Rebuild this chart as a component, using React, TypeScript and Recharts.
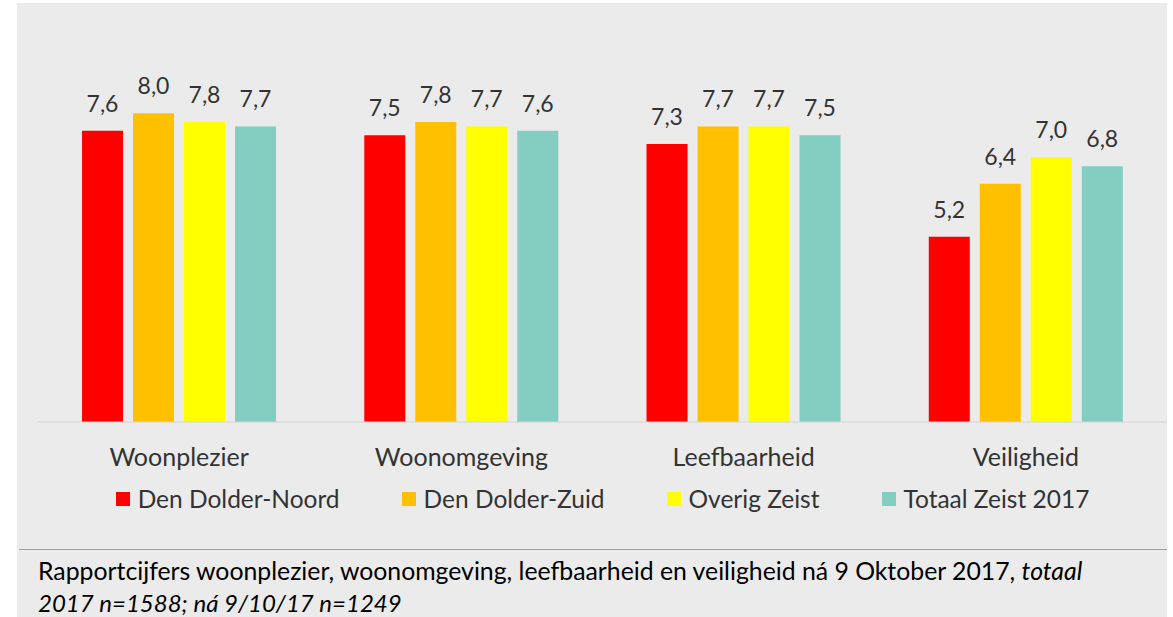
import { Bar, BarChart, LabelList, Legend, XAxis, YAxis } from "recharts";

const categories = ["Woonplezier", "Woonomgeving", "Leefbaarheid", "Veiligheid"];
const denDolderNoord = [7.6, 7.5, 7.3, 5.2];
const denDolderZuid = [8.0, 7.8, 7.7, 6.4];
const overigZeist = [7.8, 7.7, 7.7, 7.0];
const totaalZeist2017 = [7.7, 7.6, 7.5, 6.8];

const series = [
  { key: "noord", name: "Den Dolder-Noord", color: "#ff0000", values: denDolderNoord },
  { key: "zuid", name: "Den Dolder-Zuid", color: "#ffc000", values: denDolderZuid },
  { key: "overig", name: "Overig Zeist", color: "#ffff00", values: overigZeist },
  { key: "totaal", name: "Totaal Zeist 2017", color: "#83cec0", values: totaalZeist2017 },
];

const data = categories.map((cat, i) => {
  const row: Record<string, string | number> = { cat };
  series.forEach((s) => {
    row[s.key] = s.values[i];
  });
  return row;
});

const font = "Lato, 'Noto Sans', sans-serif";
const fmt = (v: any) => Number(v).toFixed(1).replace(".", ",");

function LegendContent() {
  return (
    <div
      style={{
        height: 47,
        display: "flex",
        justifyContent: "center",
        alignItems: "flex-start",
        paddingTop: 9,
        boxSizing: "border-box",
        gap: 62,
        fontFamily: font,
        fontSize: 24.5,
        color: "#333333",
      }}
    >
      {series.map((s) => (
        <div key={s.key} style={{ display: "flex", alignItems: "center", lineHeight: "25px" }}>
          <span
            style={{ width: 14, height: 14, background: s.color, display: "inline-block", marginRight: 8 }}
          />
          <span>{s.name}</span>
        </div>
      ))}
    </div>
  );
}

export default function App() {
  return (
    <div
      style={{
        position: "absolute",
        left: 0,
        top: 0,
        width: 1173,
        height: 617,
        background: "#ffffff",
        fontFamily: font,
        overflow: "hidden",
      }}
    >
      <div
        style={{
          position: "absolute",
          left: 17,
          top: 3,
          width: 1150,
          height: 614,
          background: "#ebebeb",
        }}
      >
        <BarChart
          width={1150}
          height={521}
          data={data}
          margin={{ top: 22, right: 0, left: 21, bottom: 0 }}
          barGap={10}
          barCategoryGap="15.6%"
        >
          <XAxis
            dataKey="cat"
            height={55}
            tickLine={false}
            tickSize={0}
            tickMargin={26}
            axisLine={{ stroke: "#d4d4d4" }}
            tick={{ fontSize: 25, fill: "#333333", fontFamily: font }}
          />
          <YAxis hide type="number" domain={[1, 10]} />
          <Legend
            verticalAlign="bottom"
            height={47}
            wrapperStyle={{ height: 47 }}
            content={() => <LegendContent />}
          />
          {series.map((s) => (
            <Bar key={s.key} dataKey={s.key} name={s.name} fill={s.color} isAnimationActive={false}>
              <LabelList
                dataKey={s.key}
                position="top"
                offset={19}
                formatter={fmt}
                style={{ fontSize: 23, fill: "#333333", fontFamily: font }}
              />
            </Bar>
          ))}
        </BarChart>
        <div
          style={{
            position: "absolute",
            left: 2,
            top: 546,
            width: 1148,
            height: 1,
            background: "#7aa6da",
          }}
        />
        <div
          style={{
            position: "absolute",
            left: 21,
            top: 553,
            lineHeight: "29px",
            color: "#000000",
            fontFamily: font,
            whiteSpace: "nowrap",
          }}
        >
          <span style={{ fontSize: 24.8 }}>
            Rapportcijfers woonplezier, woonomgeving, leefbaarheid en veiligheid ná 9 Oktober 2017,{" "}
            <i>totaal</i>
          </span>
          <br />
          <i style={{ fontSize: 24 }}>2017 n=1588; ná 9/10/17 n=1249</i>
        </div>
      </div>
    </div>
  );
}
